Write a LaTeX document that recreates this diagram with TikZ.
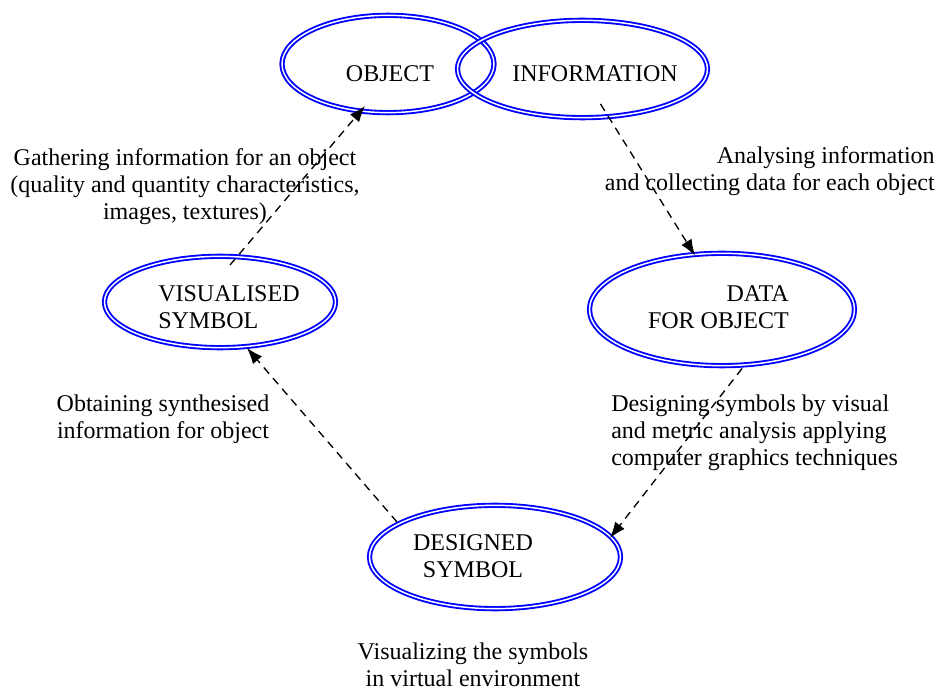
\documentclass[tikz,border=0pt]{standalone}
\usepackage{fontspec}
\setmainfont{Liberation Serif}
\usetikzlibrary{shapes.geometric,arrows.meta,calc}
\begin{document}
\begin{tikzpicture}[x=0.75pt,y=-0.75pt,
  oval/.style={ellipse, draw=blue, double=white, line width=1.4pt,
    double distance=1.1pt, inner sep=0pt},
  lbl/.style={font=\fontsize{18}{20.25}\selectfont, inner sep=0pt},
  conn/.style={draw=black, line width=1pt, dash pattern=on 6pt off 4.5pt,
    -{Latex[length=12pt,width=9pt]}}]
\useasboundingbox (0,0) rectangle (940,691);

% stages of the cycle
\node[oval, minimum width=159pt,   minimum height=73pt]   (obj)  at (388,64) {};
\node[oval, minimum width=187.5pt, minimum height=73pt]   (info) at (582.5,69) {};
\node[oval, minimum width=173.25pt,minimum height=68.5pt] (vis)  at (220,302) {};
\node[oval, minimum width=198.75pt,minimum height=84.25pt](data) at (722,309.5) {};
\node[oval, minimum width=188.25pt,minimum height=77.5pt] (des)  at (495,557) {};

% stage names
\node[lbl] (objT)  at (390,73.5) {OBJECT};
\node[lbl] (infoT) at (595,74) {INFORMATION};
\node[lbl, align=left, anchor=west]  (visT)  at (158,307) {VISUALISED\\SYMBOL};
\node[lbl, align=right, anchor=east] (dataT) at (789,307.5) {DATA\\FOR OBJECT};
\node[lbl, align=center] (desT) at (473,556) {DESIGNED\\SYMBOL};

% process descriptions
\node[lbl, align=center] (gath) at (185,186.4)
  {Gathering information for an object\\(quality and quantity characteristics,\\images, textures)};
\node[lbl, align=right, anchor=east] (anal) at (935,171)
  {Analysing information\\and collecting data for each object};
\node[lbl, align=center] (obt) at (163,419)
  {Obtaining synthesised\\information for object};
\node[lbl, align=left, anchor=west] (desg) at (611,433)
  {Designing symbols by visual\\and metric analysis applying\\computer graphics techniques};
\node[lbl, align=center] (visz) at (473,665)
  {Visualizing the symbols\\in virtual environment};

% transitions
\draw[conn] ($(vis)+(10,-37)$) -- ($(obj)+(-23,42)$);
\draw[conn] ($(info)+(18,35)$) -- ($(data)+(-27,-54)$);
\draw[conn] ($(data)+(20,59)$) -- ($(des)+(115,-19)$);
\draw[conn] ($(des)+(-98,-35)$) -- ($(vis)+(27,46)$);
\end{tikzpicture}
\end{document}
